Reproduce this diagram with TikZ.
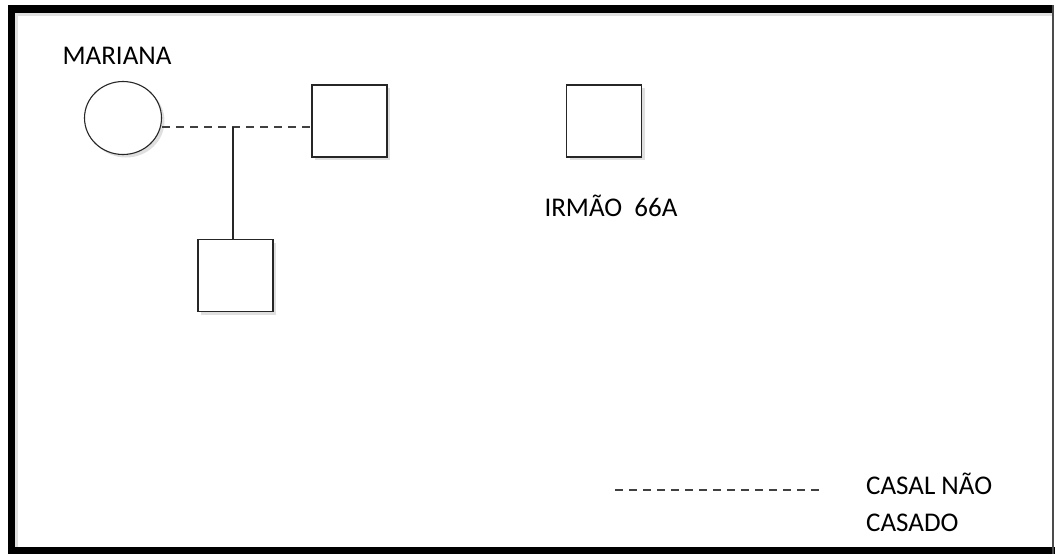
\documentclass[tikz,border=0pt]{standalone}
\usepackage{fontspec}
\setmainfont{Carlito}
\usetikzlibrary{shapes.geometric,shadows}
\begin{document}
\begin{tikzpicture}[x=1pt,y=-1pt,
  shadowed/.style={drop shadow={opacity=0.25,shadow xshift=3pt,shadow yshift=-3pt}},
  person/.style={draw=black!85,line width=1.6pt,fill=white,minimum width=75pt,minimum height=72pt,inner sep=0pt,shadowed},
  female/.style={ellipse,draw=black!85,line width=1.1pt,fill=white,minimum width=77pt,minimum height=73pt,inner sep=0pt,shadowed},
  lbl/.style={font=\fontsize{27}{31}\selectfont,text=black,inner sep=0pt},
  couple/.style={draw=black!75,line width=2pt,dash pattern=on 8pt off 6pt},
  legendline/.style={draw=black!75,line width=1.6pt,dash pattern=on 8pt off 6pt},
  link/.style={draw=black!85,line width=1.6pt}]
\useasboundingbox (0,0) rectangle (1055,554);
% frame
\fill[white] (8,5) rectangle (1053,554);
\fill[black] (8,5) rectangle (1053,13);
\fill[black] (8,5) rectangle (15,554);
\fill[black] (8,547) rectangle (1055,554);
\draw[black!70,line width=1.5pt] (1053,5) -- (1053,554);
\fill[black!12] (15,13) rectangle (1052,16);
\fill[black!12] (15,13) rectangle (18,547);
% people
\node[female] (m) at (123,118) {};
\node[person] (s1) at (349.5,121) {};
\node[person] (c) at (235.5,275.5) {};
\node[person] (s3) at (604,121) {};
\node[lbl] (tm) at (117,56) {MARIANA};
\node[lbl] (ti) at (611,206) {IRMÃO\ \ 66A};
% connectors
\coordinate (j) at (233,127);
\draw[couple] (m.east |- j) -- (s1.west |- j);
\draw[link] (j) -- (j |- c.north);
% legend
\coordinate (l1) at (615,490);
\coordinate (l2) at (822,490);
\draw[legendline] (l1) -- (l2);
\node[lbl,anchor=west] (tc1) at (866,484) {CASAL NÃO};
\node[lbl,anchor=west] (tc2) at (866,523) {CASADO};
\end{tikzpicture}
\end{document}
